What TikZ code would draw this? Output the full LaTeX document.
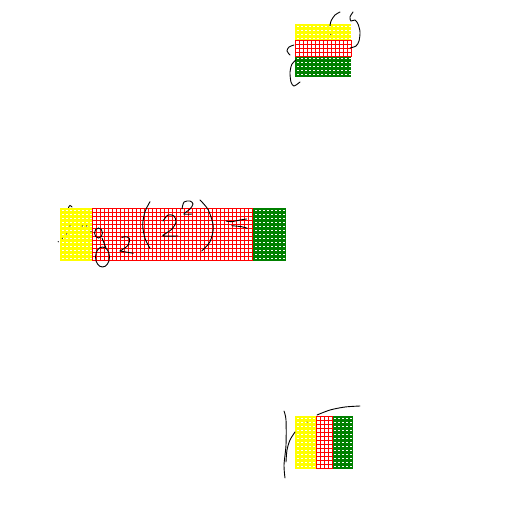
\documentclass[tikz,border=0pt]{standalone}
\usepackage{xcolor}
\usepackage{tikz}
\definecolor{bandyellow}{HTML}{FFFF00}
\definecolor{bandred}{HTML}{FF0000}
\definecolor{bandgreen}{HTML}{008000}
\tikzset{
  scribble/.style={draw=black,line width=0.9pt,line cap=round},
  ink dot/.style={fill=black},
  hole/.style={fill=white}
}
% x, y, width, height, columns, rows, colour  (pitch 4)
\newcommand{\dotband}[7]{%
  \fill[#7] (#1,#2) rectangle ++(#3,#4);
  \foreach \i in {1,...,#5} \foreach \j in {1,...,#6}
    \fill[hole] ({#1+4*\i-2},{#2+4*\j-2}) rectangle ++(2,1);
}
% x, y, columns, rows  (pitch 4, 1px lines)
\newcommand{\gridband}[4]{%
  \fill[bandred] (#1,#2) rectangle ++({4*#3+1},{4*#4+1});
  \foreach \i in {1,...,#3} \foreach \j in {1,...,#4}
    \fill[hole] ({#1+4*\i-3},{#2+4*\j-3}) rectangle ++(3,3);
}

\begin{document}
\begin{tikzpicture}[x=1pt,y=-1pt]
  \useasboundingbox (0,0) rectangle (512,512);
  % top block
  \dotband{295}{24}{56}{16}{14}{4}{bandyellow}
  \dotband{295}{56}{56}{21}{14}{5}{bandgreen}
  \gridband{295}{40}{14}{4}
  \draw[scribble] plot[smooth] coordinates {(340,12) (335,15) (331,21) (330,26)};
  \fill[ink dot] (330.7,34.3) circle (0.5);
  \draw[scribble] plot[smooth] coordinates {(353,12) (350,17) (351,21) (355,20) (358,24) (360,32) (359,41) (356,46) (350,48)};
  \draw[scribble] plot[smooth] coordinates {(294,45) (289,47) (287,51) (290,55)};
  \draw[scribble] plot[smooth] coordinates {(296,60) (292,64) (290,72) (291,82) (294,86) (300,82)};
  % middle block
  \dotband{60}{208}{32}{53}{8}{13}{bandyellow}
  \dotband{253}{208}{33}{53}{8}{13}{bandgreen}
  \gridband{92}{208}{40}{13}
  \draw[scribble] plot[smooth] coordinates {(68.5,207.5) (70,205.5) (72,207)};
  \foreach \p in {(70,226),(82.3,226),(86.7,226),(91,231.7),(66.7,234),(62.3,238.3),(58.3,241.7)}
    \fill[ink dot] \p circle (0.6);
  \draw[scribble] (98.5,233) ellipse (4 and 5);
  \draw[scribble] (102,238) -- (106,248);
  \draw[scribble] (102.5,257) ellipse (7 and 10);
  \draw[scribble] plot[smooth] coordinates {(121.7,237.7) (125,236.7) (129.3,238.3) (128.3,245) (121.7,250) (120,251) (126,252) (133.3,253.3)};
  \draw[scribble] plot[smooth] coordinates {(150,201.7) (145,211.7) (142.7,225) (145,238.3) (150,248.3)};
  \draw[scribble] plot[smooth] coordinates {(163,221) (168,215) (174,216) (176,222) (172,229) (165,234) (163,236) (178,236)};
  \draw[scribble] plot[smooth] coordinates {(182,209) (184,202) (190,201) (193,204) (190,209) (184,214) (192,214)};
  \draw[scribble] plot[smooth] coordinates {(200,200) (208.3,210) (213.3,226.7) (210,241.7) (201.7,251)};
  \draw[scribble] plot[smooth] coordinates {(226,221) (231.7,221.7) (240,220) (246.7,219)};
  \draw[scribble] plot[smooth] coordinates {(231.7,225.7) (241.7,226.7) (247.3,228.3)};
  % bottom block
  \dotband{295}{416}{21}{53}{5}{13}{bandyellow}
  \dotband{332}{416}{21}{53}{5}{13}{bandgreen}
  \gridband{316}{416}{4}{13}
  \draw[scribble] plot[smooth] coordinates {(284,411) (286,420) (286,445) (284,465) (285,478)};
  \draw[scribble] plot[smooth] coordinates {(295,432) (290,440) (287,450) (286,462)};
  \draw[scribble] plot[smooth] coordinates {(317,415) (330,410) (345,407) (360,406)};
  \fill[ink dot] (307,422) circle (0.5);
\end{tikzpicture}
\end{document}
